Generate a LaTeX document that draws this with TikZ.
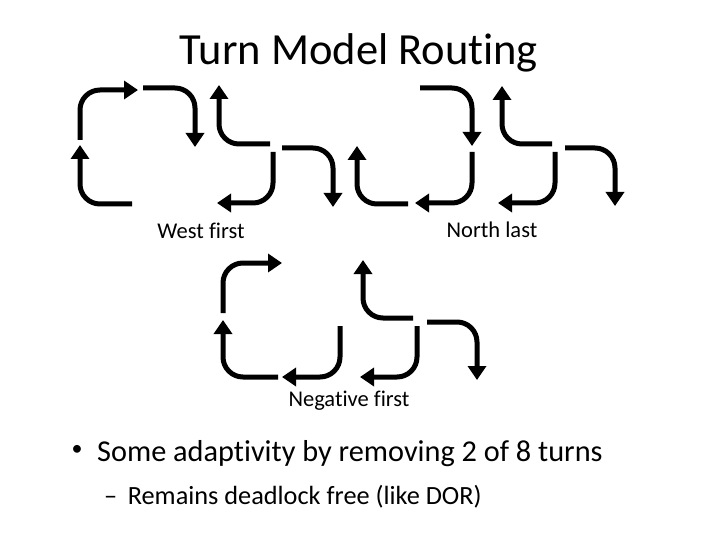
\documentclass[tikz,border=0pt]{standalone}
\usepackage{fontspec}
\setmainfont{Carlito}[Ligatures=NoCommon]
\usetikzlibrary{arrows.meta}

\tikzset{
  turn/.style={line width=5pt, rounded corners=20pt,
               -{Triangle[width=18pt,length=14pt]}},
  lbl/.style={font=\fontsize{22.5}{26}\selectfont, anchor=base, inner sep=0pt}
}

\begin{document}
\begin{tikzpicture}[x=1pt,y=-1pt]
  \useasboundingbox (0,0) rectangle (720,540);
  \node[font=\fontsize{44.5}{50}\selectfont, anchor=base, inner sep=0pt] (title) at (359,65) {Turn Model Routing};
  % turns: start / corner / tip
  \foreach \ax/\ay/\bx/\by/\cx/\cy in {
    80/140/80/90/138/90,     132/204/80/204/80/145,
    143/88/195/88/195/147,   270/144/219/144/219/85,
    273/152/273/203/217/203, 282/148/333/148/333/207,
    408/204/357/204/357/146, 420/88/472/88/472/146,
    472/152/472/203/415/203, 552/144/502/144/502/86,
    555/152/555/203/498/203, 565/148/615/148/615/206,
    223/313/223/263/282/263, 278/377/223/377/223/320,
    340/326/340/377/282/377, 413/318/363/318/363/260,
    417/326/417/377/360/377, 427/322/477/322/477/380}
  {
    \draw[turn] (\ax,\ay) -- (\bx,\by) -- (\cx,\cy);
  }
  \node[lbl] (west) at (201,239) {West first};
  \node[lbl] (north) at (492,237) {North last};
  \node[lbl] (negative) at (349,406) {Negative first};
  % bullets
  \node[font=\fontsize{22}{26}\selectfont, inner sep=0pt] (bullet) at (77,450) {•};
  \node[font=\fontsize{30.3}{34}\selectfont, anchor=base west, inner sep=0pt] (item) at (97,461) {Some adaptivity by removing 2 of 8 turns};
  \node[font=\fontsize{26.3}{30}\selectfont, anchor=base west, inner sep=0pt] (subitem) at (104,504) {–\hspace{0.4em}Remains deadlock free (like DOR)};
\end{tikzpicture}
\end{document}
